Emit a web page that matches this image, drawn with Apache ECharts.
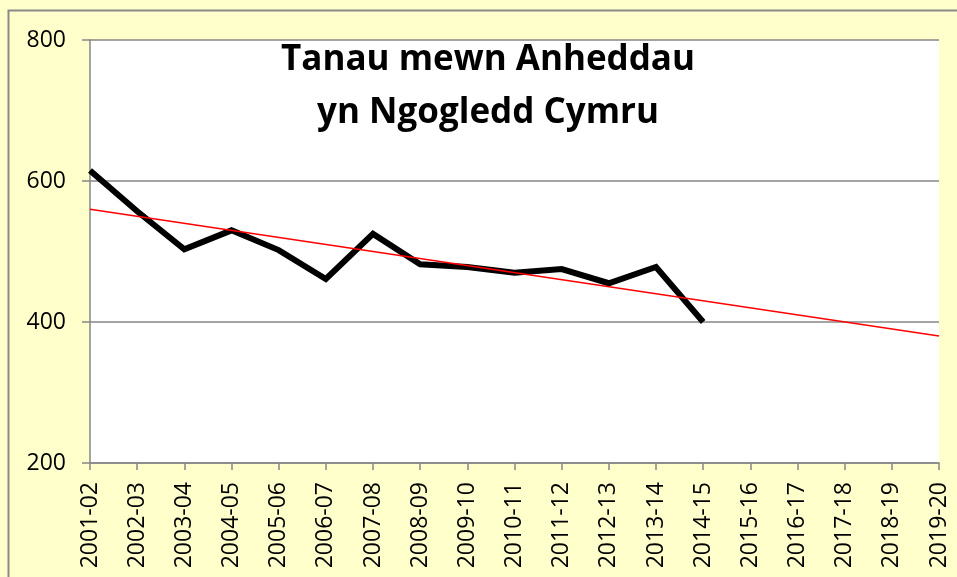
<!DOCTYPE html>
<html>
<head>
<meta charset="utf-8">
<script src="https://cdn.jsdelivr.net/npm/echarts@6/dist/echarts.min.js"></script>
<style>
html,body{margin:0;padding:0;background:#FFFFCC;}
#c{width:957px;height:577px;}
</style>
</head>
<body>
<div id="c"></div>
<script>
var categories = ['2001-02','2002-03','2003-04','2004-05','2005-06','2006-07','2007-08','2008-09','2009-10','2010-11','2011-12','2012-13','2013-14','2014-15','2015-16','2016-17','2017-18','2018-19','2019-20'];
var fires = [615, 557, 503, 530, 502, 461, 525, 482, 478, 470, 475, 455, 478, 400];
var trendStart = 560;
var trendEnd = 380;
var yTicks = [200, 400, 600, 800];
var titleLines = ['Tanau mewn Anheddau', 'yn Ngogledd Cymru'];

var trend = categories.map(function (c, i) {
  if (i === 0) return trendStart;
  if (i === categories.length - 1) return trendEnd;
  return null;
});

var chart = echarts.init(document.getElementById('c'), null, {renderer: 'canvas'});
var font = '"Open Sans", sans-serif';
chart.setOption({
  backgroundColor: '#FFFFCC',
  animation: false,
  grid: {left: 90, top: 40, right: 18, bottom: 114, show: true, backgroundColor: '#ffffff', borderWidth: 0},
  xAxis: {
    type: 'category',
    data: categories,
    boundaryGap: false,
    axisLine: {lineStyle: {color: '#868686', width: 1.5}},
    axisTick: {show: true, length: 7, lineStyle: {color: '#868686', width: 1.5}},
    axisLabel: {rotate: 90, margin: 19, color: '#000', fontSize: 23, fontFamily: font, interval: 0},
    splitLine: {show: false}
  },
  yAxis: {
    type: 'value',
    min: yTicks[0],
    max: yTicks[yTicks.length - 1],
    interval: 200,
    axisLine: {show: true, lineStyle: {color: '#868686', width: 1.5}},
    axisTick: {show: true, length: 8, lineStyle: {color: '#868686', width: 1.5}},
    axisLabel: {margin: 24, color: '#000', fontSize: 23, fontFamily: font},
    splitLine: {show: true, lineStyle: {color: '#868686', width: 1.5}}
  },
  series: [
    {
      type: 'line',
      data: fires,
      symbol: 'none',
      lineStyle: {color: '#000', width: 6, join: 'miter'},
      z: 3
    },
    {
      type: 'line',
      data: trend,
      connectNulls: true,
      symbol: 'none',
      lineStyle: {color: '#ff0000', width: 1.5},
      z: 4
    }
  ],
  graphic: [
    {
      type: 'rect',
      shape: {x: 8.5, y: 10.5, width: 1000, height: 1000},
      style: {fill: 'none', stroke: '#8a8a8a', lineWidth: 2},
      z: 100, silent: true
    },
    {
      type: 'text',
      x: 488, y: 34,
      style: {
        text: titleLines.join('\n'),
        font: 'bold 35px "Open Sans", sans-serif',
        fill: '#000',
        align: 'center',
        verticalAlign: 'top',
        lineHeight: 53
      },
      z: 100
    }
  ]
});
</script>
</body>
</html>
